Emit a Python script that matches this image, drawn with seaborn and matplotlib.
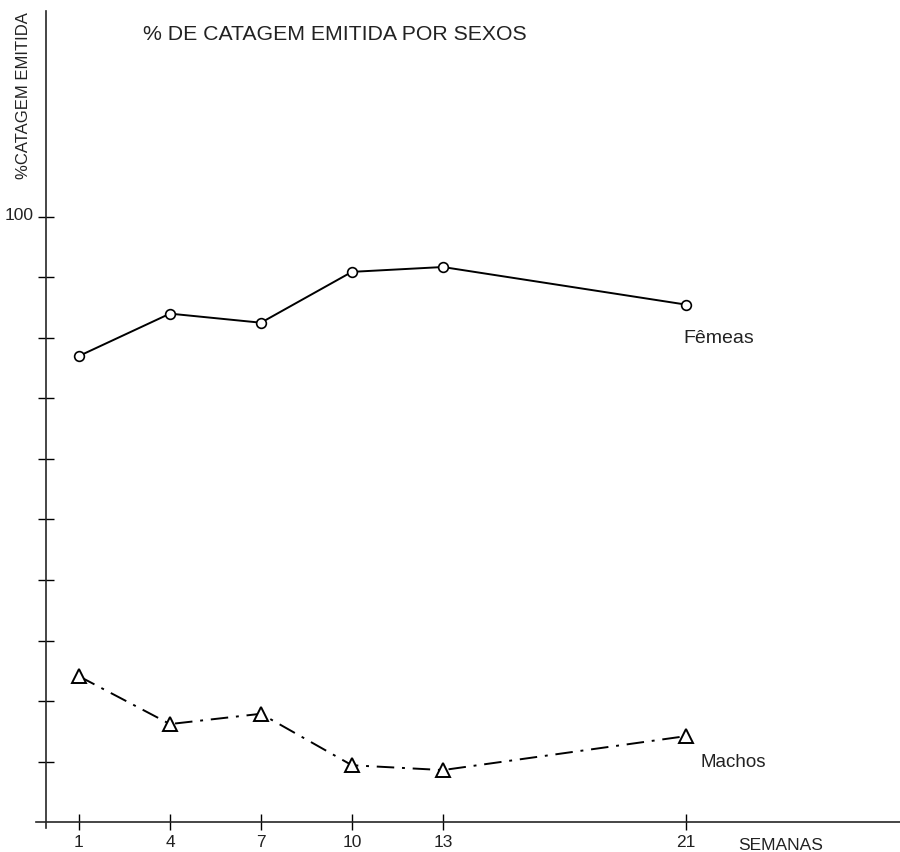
import pandas as pd
import seaborn as sns
import matplotlib
matplotlib.use("Agg")
import matplotlib.pyplot as plt
import matplotlib.transforms as mtransforms

# data (% of catch emitted, by sex)
semanas = [1, 4, 7, 10, 13, 21]
femeas = [77.0, 84.0, 82.5, 90.9, 91.7, 85.5]
machos = [24.1, 16.2, 17.9, 9.4, 8.6, 14.2]

df = pd.DataFrame({
    "semana": semanas * 2,
    "pct": femeas + machos,
    "sexo": ["Fêmeas"] * len(semanas) + ["Machos"] * len(semanas),
})

sns.set_style("ticks")
plt.rcParams["font.family"] = ["Liberation Sans", "DejaVu Sans"]

fig = plt.figure(figsize=(9, 8.53), dpi=100)
ax = fig.add_axes([0.051, 0.035, 0.949, 0.951])

# Fêmeas: solid line, open circles
sns.lineplot(data=df[df["sexo"] == "Fêmeas"], x="semana", y="pct", ax=ax,
             color="black", linewidth=1.4, marker="o", markersize=7,
             markerfacecolor="white", markeredgecolor="black",
             markeredgewidth=1.2, legend=False)

# Machos: dash-dot line, open triangles
sns.lineplot(data=df[df["sexo"] == "Machos"], x="semana", y="pct", ax=ax,
             color="black", linewidth=1.4, marker="^", markersize=10,
             markerfacecolor="white", markeredgecolor="black",
             markeredgewidth=1.4, legend=False)
ax.lines[-1].set_dashes((9, 4, 1.5, 4))

ax.set_xlim(-0.09, 28.07)
ax.set_ylim(0, 134)

sns.despine(ax=ax)
ax.spines["left"].set_bounds(-1, 134)
ax.spines["bottom"].set_bounds(-0.4, 28.07)
for s in ("left", "bottom"):
    ax.spines[s].set_linewidth(1.2)

ax.set_yticks(range(10, 101, 10))
ax.set_yticklabels([""] * 9 + ["100"])
ax.set_xticks(semanas)
ax.set_xticklabels([str(s) for s in semanas])
ax.tick_params(direction="inout", length=11, width=1, labelsize=12.5,
               color="black", labelcolor="#222222")
ax.tick_params(axis="x", pad=3)
ax.tick_params(axis="y", pad=3)
shift = mtransforms.ScaledTranslation(0, 4 / 100, fig.dpi_scale_trans)
for lab in ax.get_yticklabels():
    lab.set_transform(lab.get_transform() + shift)
ax.set_xlabel("")
ax.set_ylabel("")

ax.annotate("SEMANAS", xy=(24.15, 3 / 853), xycoords=("data", "figure fraction"),
            ha="center", va="baseline", fontsize=12.5, color="#222222")

ax.annotate("Fêmeas", xy=(683, 853 - 343), xycoords="figure pixels",
            ha="left", va="baseline", fontsize=14, color="#222222")
ax.annotate("Machos", xy=(701, 853 - 767), xycoords="figure pixels",
            ha="left", va="baseline", fontsize=13.5, color="#222222")

fig.text(24 / 900, 1 - 96 / 853, "%CATAGEM EMITIDA", rotation=90,
         ha="center", va="center", fontsize=12, color="#222222")
fig.text(143 / 900, 1 - 40 / 853, "% DE CATAGEM EMITIDA POR SEXOS",
         ha="left", va="baseline", fontsize=15.3, color="#222222")

fig.savefig("out.png", dpi=100)
